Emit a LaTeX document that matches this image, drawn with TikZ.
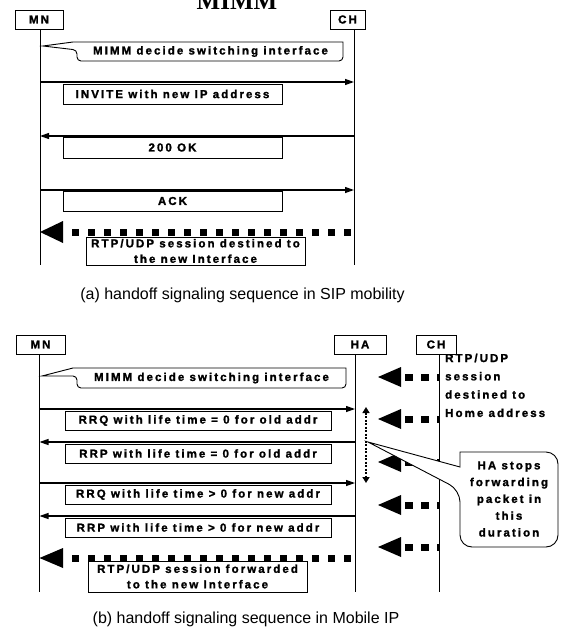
\documentclass[tikz,border=0pt]{standalone}
\usepackage{fontspec}
\setmainfont{Liberation Sans}
\newfontfamily\lblfont{Liberation Sans Bold}[LetterSpace=18, FakeBold=1.6]
\newfontfamily\titlefont{Liberation Serif Bold}
\usetikzlibrary{arrows.meta}
\tikzset{
  lifeline/.style={line width=0.9pt},
  actor/.style={draw, line width=0.9pt, inner sep=0pt, minimum height=19pt,
    font=\lblfont\fontsize{11.5}{13}\selectfont},
  lbl/.style={draw, fill=white, line width=0.9pt, inner sep=0pt, align=center,
    font=\lblfont\fontsize{11.5}{15.5}\selectfont},
  txt/.style={inner sep=0pt, font=\lblfont\fontsize{11.5}{13}\selectfont},
  callout/.style={draw, fill=white, line width=0.9pt},
  msg/.style={line width=1.2pt, -{Triangle[length=9pt,width=6pt]}},
  flow/.style={line width=7pt, dash pattern=on 7pt off 9pt},
  bighead/.style={fill=black},
  vdots/.style={line width=2.5pt, dash pattern=on 2pt off 1.5pt,
    {Triangle[length=6pt,width=7pt]}-{Triangle[length=6pt,width=7pt]}},
  caption/.style={inner sep=0pt, font=\fontsize{16}{18}\selectfont}
}
\begin{document}
\begin{tikzpicture}[x=1pt,y=-1pt]
\useasboundingbox (0,0) rectangle (560,631);

% ---------------- (a) ----------------
\node[inner sep=0pt, anchor=base, font=\titlefont\fontsize{25}{25}\selectfont] (title) at (237,10) {MIMM};
\node[actor, minimum width=48pt] (mnA) at (39,19.5) {MN};
\node[actor, minimum width=35pt] (chA) at (347.5,19.5) {CH};
\coordinate (mnAt) at (40,29);  \coordinate (mnAb) at (40,265);
\coordinate (chAt) at (354,29); \coordinate (chAb) at (354,265);
\draw[lifeline] (mnAt) -- (mnAb);
\draw[lifeline] (chAt) -- (chAb);

\coordinate (tipA) at (43,46);
\draw[callout] (tipA) -- (73,42) -- (343,42) [rounded corners=4pt] -- (343,61) -- (77,61) -- (77,50) [sharp corners] -- cycle;
\node[txt] (decA) at (210.5,51.5) {MIMM decide switching interface};

\coordinate (inv1) at (40,82); \coordinate (inv2) at (354,82);
\draw[msg] (inv1) -- (inv2);
\node[lbl, minimum width=219pt, minimum height=20pt] (invL) at (172.5,94) {INVITE with new IP address};

\coordinate (ok1) at (354,136); \coordinate (ok2) at (40,136);
\draw[msg] (ok1) -- (ok2);
\node[lbl, minimum width=219pt, minimum height=21pt] (okL) at (172.5,147.5) {200 OK};

\coordinate (ack1) at (40,190); \coordinate (ack2) at (354,190);
\draw[msg] (ack1) -- (ack2);
\node[lbl, minimum width=219pt, minimum height=20pt] (ackL) at (172.5,201) {ACK};

\coordinate (rtpA1) at (354,232); \coordinate (rtpA2) at (72,232);
\draw[flow] (rtpA2) -- (rtpA1);
\coordinate (rtpAtip) at (40,232);
\fill[bighead] (rtpAtip) -- (63,221) -- (63,243) -- cycle;
\node[lbl, minimum width=219pt, minimum height=28pt] (rtpAL) at (195.5,251) {RTP/UDP session destined to\\the new Interface};

\node[caption] (capA) at (242.5,295) {(a) handoff signaling sequence in SIP mobility};

% ---------------- (b) ----------------
\node[actor, minimum width=49pt] (mnB) at (40.5,344.5) {MN};
\node[actor, minimum width=52pt] (haB) at (360,344.5) {HA};
\node[actor, minimum width=40pt] (chB) at (436,344.5) {CH};
\coordinate (mnBt) at (39.5,354);  \coordinate (mnBb) at (39.5,592);
\coordinate (haBt) at (355,354);   \coordinate (haBb) at (355,592);
\coordinate (chBt) at (439,354);   \coordinate (chBb) at (439,592);
\draw[lifeline] (mnBt) -- (mnBb);
\draw[lifeline] (haBt) -- (haBb);
\draw[lifeline] (chBt) -- (chBb);

\coordinate (tipB) at (42,376);
\draw[callout] (tipB) -- (73,368) -- (346,368) [rounded corners=4pt] -- (346,388) -- (77,388) -- (77,376) [sharp corners] -- cycle;
\node[txt] (decB) at (211.5,378) {MIMM decide switching interface};

\node[txt, anchor=north west, align=left, font=\lblfont\fontsize{11.5}{18.3}\selectfont] (chTxt) at (445,353.5) {RTP/UDP\\session\\destined to\\Home address};

% CH -> HA flows
\foreach \yy/\nm in {377/f1,419/f2,462/f3,505/f4,547/f5}{
  \coordinate (\nm s) at (439,\yy);
  \coordinate (\nm e) at (405,\yy);
  \draw[flow, dash pattern=on 8pt off 8pt] (\nm e) -- (\nm s);
  \fill[bighead] (378,\yy) -- (401,\yy-10) -- (401,\yy+10) -- cycle;
}

\coordinate (d1) at (366,407); \coordinate (d2) at (366,483);
\draw[vdots] (d1) -- (d2);

\coordinate (rq1) at (39.5,409); \coordinate (rq2) at (355,409);
\draw[msg] (rq1) -- (rq2);
\node[lbl, minimum width=266pt, minimum height=19pt] (rqL) at (198,420.5) {RRQ with life time = 0 for old addr};

\coordinate (rp1) at (355,442); \coordinate (rp2) at (39.5,442);
\draw[msg] (rp1) -- (rp2);
\node[lbl, minimum width=266pt, minimum height=19pt] (rpL) at (198,453.5) {RRP with life time = 0 for old addr};

\coordinate (rq3) at (39.5,483); \coordinate (rq4) at (355,483);
\draw[msg] (rq3) -- (rq4);
\node[lbl, minimum width=266pt, minimum height=19pt] (rq2L) at (198,494.5) {RRQ with life time > 0 for new addr};

\coordinate (rp3) at (355,516); \coordinate (rp4) at (39.5,516);
\draw[msg] (rp3) -- (rp4);
\node[lbl, minimum width=266pt, minimum height=19pt] (rp2L) at (198,527.5) {RRP with life time > 0 for new addr};

\coordinate (rtpB1) at (355,558); \coordinate (rtpB2) at (72,558);
\draw[flow] (rtpB2) -- (rtpB1);
\fill[bighead] (39.5,558) -- (63,548) -- (63,568) -- cycle;
\node[lbl, minimum width=219pt, minimum height=31pt] (rtpBL) at (197.5,576.5) {RTP/UDP session forwarded\\to the new Interface};

% HA stops callout
\coordinate (tipH) at (368,442);
\draw[callout] (tipH) -- (460,467) -- (460,452) [rounded corners=12pt] -- (558,452) -- (558,547) -- (460,547) -- (460,490) [sharp corners] -- cycle;
\node[txt, align=center, font=\lblfont\fontsize{11.5}{16.8}\selectfont] (haTxt) at (509,499) {HA stops\\forwarding\\packet in\\this\\duration};

\node[caption] (capB) at (246,619) {(b) handoff signaling sequence in Mobile IP};
\end{tikzpicture}
\end{document}
